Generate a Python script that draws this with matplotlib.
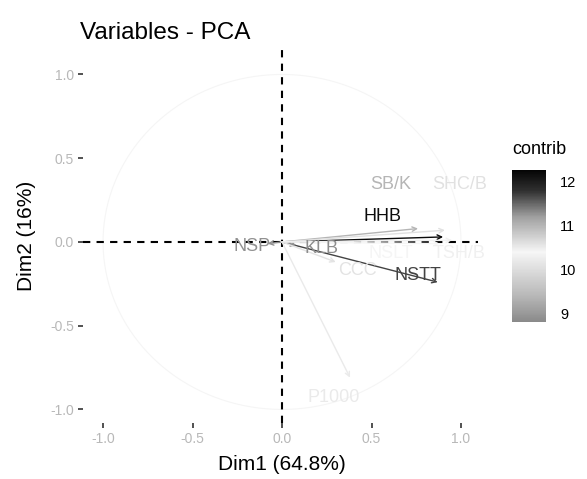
import matplotlib.pyplot as plt
import numpy as np
from matplotlib.colors import LinearSegmentedColormap, Normalize
from matplotlib.cm import ScalarMappable

plt.rcParams['font.family'] = ['Liberation Sans', 'DejaVu Sans']

# variable loadings on Dim1 / Dim2 and their contributions
var_names = ['HHB', 'NSTT', 'NSP', 'KLB', 'P1000', 'SB/K', 'SHC/B', 'NSLT', 'TSH/B', 'CCC']
dim1 = [0.90, 0.87, -0.08, 0.08, 0.38, 0.76, 0.91, 0.88, 0.95, 0.30]
dim2 = [0.03, -0.24, -0.01, -0.02, -0.81, 0.08, 0.07, -0.01, 0.01, -0.12]
contrib = [12.2, 11.7, 8.9, 8.85, 10.2, 11.0, 10.6, 10.4, 10.3, 10.1]

# where each label sits (repelled away from the arrow tips)
label_x = [0.56, 0.76, -0.17, 0.22, 0.29, 0.61, 0.99, 0.61, 0.99, 0.42]
label_y = [0.15, -0.20, -0.03, -0.04, -0.93, 0.34, 0.34, -0.07, -0.07, -0.17]

ticks = [-1.0, -0.5, 0.0, 0.5, 1.0]
cbar_ticks = [9, 10, 11, 12]
cmin, cmax = 8.8, 12.27

W, H = 587, 479
fig = plt.figure(figsize=(W / 100, H / 100), dpi=100)
ax = fig.add_axes([83 / W, 1 - 423 / H, (478 - 83) / W, (423 - 50) / H])
ax.set_xlim(-1.112, 1.095)
ax.set_ylim(-1.081, 1.146)

# grayscale version of the contrib gradient (scan look)
stops = [(8.8, '#8a8a8a'), (9.4, '#b8b8b8'), (10.4, '#f6f6f6'),
         (11.2, '#a0a0a0'), (11.8, '#303030'), (12.27, '#050505')]
cmap = LinearSegmentedColormap.from_list(
    'contrib', [((v - cmin) / (cmax - cmin), c) for v, c in stops])
norm = Normalize(cmin, cmax)

# correlation circle, very faint
t = np.linspace(0, 2 * np.pi, 300)
ax.plot(np.cos(t), np.sin(t), color='#f5f5f5', lw=0.8, zorder=0)

ax.axhline(0, color='black', lw=1.5, ls=(0, (3.5, 3)), zorder=1)
ax.axvline(0, color='black', lw=1.5, ls=(0, (3.5, 3)), zorder=1)

for i, name in enumerate(var_names):
    col = cmap(norm(contrib[i]))
    ax.annotate('', xy=(dim1[i], dim2[i]), xytext=(0, 0),
                arrowprops=dict(arrowstyle='->', color=col, lw=1.0,
                                shrinkA=0, shrinkB=0, mutation_scale=8),
                zorder=2)
    ax.text(label_x[i], label_y[i], name, color=col, fontsize=13,
            ha='center', va='center', zorder=3)

for s in ax.spines.values():
    s.set_visible(False)
ax.set_xticks(ticks)
ax.set_yticks(ticks)
ax.set_xticklabels(['%.1f' % v for v in ticks])
ax.set_yticklabels(['%.1f' % v for v in ticks])
ax.tick_params(length=3.6, width=1.2, color='#333333', labelcolor='#b8b8b8',
               labelsize=10, pad=3)

fig.text(80 / W, 1 - 33 / H, 'Variables - PCA', fontsize=17.5, ha='left', va='center')
fig.text(282 / W, 1 - 465 / H, 'Dim1 (64.8%)', fontsize=15, ha='center', va='center')
fig.text(27 / W, 1 - 236 / H, 'Dim2 (16%)', fontsize=15, rotation=90,
         ha='center', va='center')

# colour legend
cax = fig.add_axes([512 / W, 1 - 322 / H, 34 / W, 152 / H])
sm = ScalarMappable(norm=norm, cmap=cmap)
cb = fig.colorbar(sm, cax=cax, ticks=cbar_ticks)
cb.outline.set_visible(False)
cb.ax.tick_params(length=0, labelsize=10.5, pad=10)
fig.text(512 / W, 1 - 150 / H, 'contrib', fontsize=13, ha='left', va='center')

fig.savefig('out.png', dpi=100)
